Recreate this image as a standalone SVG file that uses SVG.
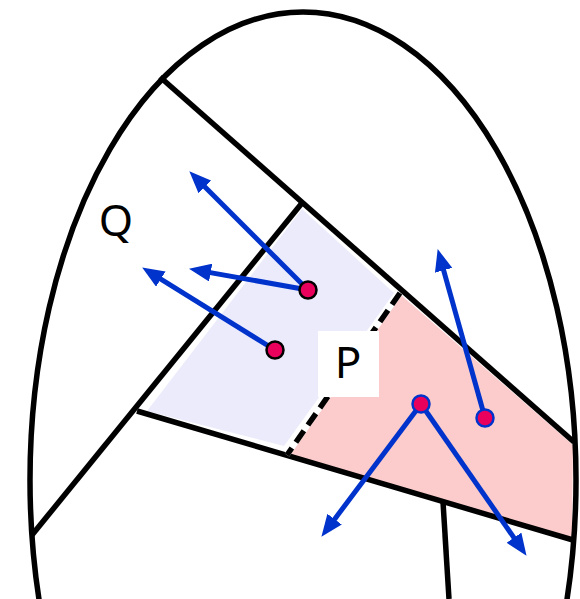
<svg xmlns="http://www.w3.org/2000/svg" width="580" height="599" viewBox="0 0 580 599">
<style>
.edge{stroke:#000;stroke-width:5.5;fill:none;stroke-linecap:butt}
.arrow{stroke:#0033cc;stroke-width:5;fill:none;marker-end:url(#ah)}
.dotk{fill:#e8005c;stroke:#000;stroke-width:2.5}
.dotb{fill:#e8005c;stroke:#0033cc;stroke-width:2.5}
.lbl{font-family:"Noto Sans","DejaVu Sans",sans-serif;font-size:44px;fill:#000}
</style>
<defs>
<marker id="ah" viewBox="0 0 22 18" refX="9" refY="9" markerWidth="22" markerHeight="18" markerUnits="userSpaceOnUse" orient="auto">
<path d="M0,0 L22,9 L0,18 z" fill="#0033cc"/>
</marker>
</defs>
<rect width="580" height="599" fill="#fff"/>
<g id="regionQ">
<polygon points="302,209 394,293 284,446 147,411" fill="#ebebfc"/>
</g>
<g id="regionP">
<polygon points="401,295 573,445 572,538 289,456" fill="#fccccc"/>
</g>
<g id="connectors">
<ellipse class="edge" cx="303" cy="480" rx="273" ry="468"/>
<line class="edge" x1="160" y1="77" x2="574" y2="442"/>
<line class="edge" x1="302" y1="203" x2="32" y2="535"/>
<line class="edge" x1="137" y1="411" x2="573" y2="540"/>
<line class="edge" x1="443" y1="502" x2="449" y2="599"/>
<line stroke="#fff" stroke-width="5.5" x1="400" y1="293" x2="287" y2="455"/>
<line class="edge" stroke-dasharray="14 7" x1="400" y1="293" x2="287" y2="455"/>
<line class="arrow" x1="308" y1="290" x2="198.5" y2="180.5"/>
<line class="arrow" x1="308" y1="290" x2="201.8" y2="271.1"/>
<line class="arrow" x1="275" y1="350" x2="153.2" y2="274.3"/>
<line class="arrow" x1="485" y1="418" x2="441.2" y2="261.6"/>
<line class="arrow" x1="421" y1="404" x2="329.2" y2="526.4"/>
<line class="arrow" x1="421" y1="404" x2="519.1" y2="545.1"/>
</g>
<g id="dots">
<circle class="dotk" cx="308" cy="290" r="8.5"/>
<circle class="dotk" cx="275" cy="350" r="8.5"/>
<circle class="dotb" cx="421" cy="404" r="8.5"/>
<circle class="dotb" cx="485" cy="418" r="8.5"/>
</g>
<g id="labelP">
<rect x="318" y="331" width="61" height="66" fill="#fff"/>
<text class="lbl" x="348" y="378" text-anchor="middle">P</text>
</g>
<g id="labelQ">
<text class="lbl" x="116" y="236" text-anchor="middle">Q</text>
</g>
</svg>
